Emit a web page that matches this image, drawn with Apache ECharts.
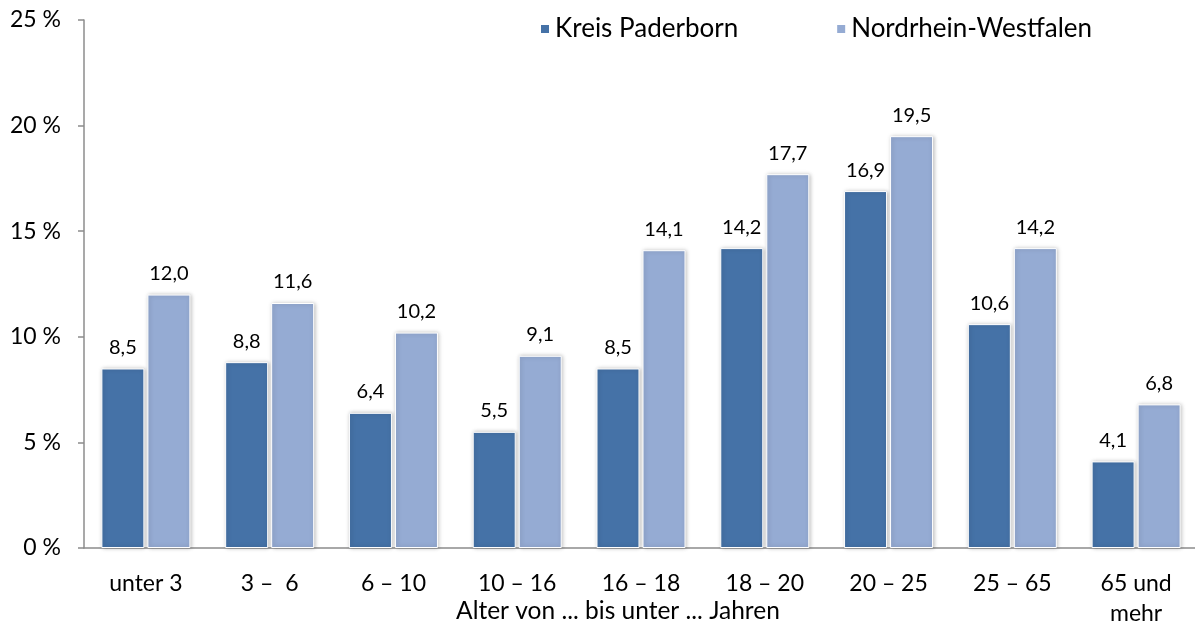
<!DOCTYPE html>
<html>
<head>
<meta charset="utf-8">
<script src="https://cdn.jsdelivr.net/npm/echarts@6/dist/echarts.min.js"></script>
<style>
  html, body { margin: 0; padding: 0; background: #fff; }
  #chart { width: 1195px; height: 626px; }
</style>
</head>
<body>
<div id="chart"></div>
<script>
  // Altersgruppen
  var categories = ['unter 3', '3 –  6', '6 – 10', '10 – 16', '16 – 18', '18 – 20', '20 – 25', '25 – 65', '65 und\nmehr'];
  var kreisPaderborn = [8.5, 8.8, 6.4, 5.5, 8.5, 14.2, 16.9, 10.6, 4.1];
  var nrw = [12.0, 11.6, 10.2, 9.1, 14.1, 17.7, 19.5, 14.2, 6.8];

  var font = 'Lato, "Open Sans", sans-serif';
  var fmt = function (p) {
    return p.value.toFixed(1).replace('.', ',');
  };

  var myChart = echarts.init(document.getElementById('chart'));
  myChart.setOption({
    animation: false,
    textStyle: { fontFamily: font, color: '#000' },
    legend: {
      left: 534,
      top: 11,
      itemWidth: 10,
      itemHeight: 10,
      itemGap: 97,
      icon: 'rect',
      textStyle: { fontSize: 26, fontFamily: font, color: '#000' },
      data: ['Kreis Paderborn', 'Nordrhein-Westfalen']
    },
    grid: {
      left: 84,
      top: 20,
      width: 1114,
      height: 528,
      outerBoundsMode: 'none',
      containLabel: false
    },
    xAxis: {
      type: 'category',
      data: categories,
      name: 'Alter von ... bis unter ... Jahren',
      nameLocation: 'middle',
      nameGap: 51,
      nameMoveOverlap: false,
      nameTextStyle: { fontSize: 24.5, fontFamily: font, color: '#000', padding: [0, 46, 0, 0] },
      axisLine: { lineStyle: { color: '#8c8c8c', width: 1.5 } },
      axisTick: { length: 7, lineStyle: { color: '#8c8c8c', width: 1.5 } },
      axisLabel: { fontSize: 23, fontFamily: font, color: '#000', margin: 21, lineHeight: 30, interval: 0 }
    },
    yAxis: {
      type: 'value',
      min: 0,
      max: 25,
      interval: 5,
      splitLine: { show: false },
      axisLine: { show: true, lineStyle: { color: '#8c8c8c', width: 1.5 } },
      axisTick: { show: true, length: 6, lineStyle: { color: '#8c8c8c', width: 1.5 } },
      axisLabel: { fontSize: 23, fontFamily: font, color: '#000', margin: 23, formatter: '{value} %' }
    },
    series: [{
      name: 'Kreis Paderborn',
      type: 'bar',
      data: kreisPaderborn,
      barWidth: 43,
      barGap: '7%',
      itemStyle: {
        color: '#4572A7',
        borderColor: '#fff',
        borderWidth: 1,
        shadowBlur: 4,
        shadowColor: 'rgba(0,0,0,0.25)',
        shadowOffsetX: 1
      },
      label: { show: true, position: 'top', distance: 11, fontSize: 20, fontFamily: font, color: '#000', formatter: fmt }
    }, {
      name: 'Nordrhein-Westfalen',
      type: 'bar',
      data: nrw,
      barWidth: 43,
      itemStyle: {
        color: '#95ABD3',
        borderColor: '#fff',
        borderWidth: 1,
        shadowBlur: 4,
        shadowColor: 'rgba(0,0,0,0.25)',
        shadowOffsetX: 1
      },
      label: { show: true, position: 'top', distance: 11, fontSize: 20, fontFamily: font, color: '#000', formatter: fmt }
    }]
  });
  window.addEventListener('resize', function () {
    myChart.resize();
  });
</script>
</body>
</html>
